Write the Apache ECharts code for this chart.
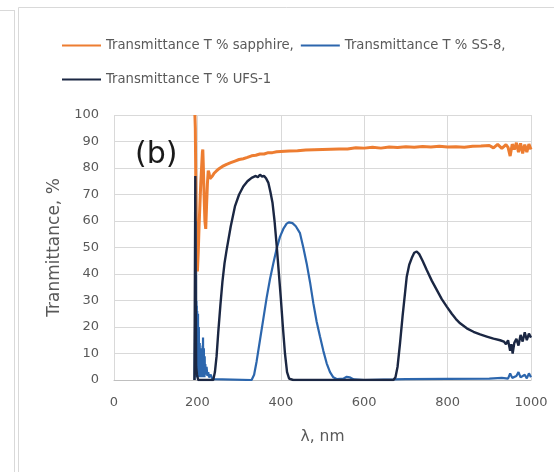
<!DOCTYPE html>
<html>
<head>
<meta charset="utf-8">
<script src="https://cdn.jsdelivr.net/npm/echarts@6/dist/echarts.min.js"></script>
<style>
html,body{margin:0;padding:0;background:#fff;}
#chart{width:554px;height:472px;}
</style>
</head>
<body>
<div id="chart"></div>
<script>
// ---- Data ----
var seriesNames = ['Transmittance T % sapphire,', 'Transmittance T % SS-8,', 'Transmittance T % UFS-1'];
var xTicks = [0, 200, 400, 600, 800, 1000];
var yTicks = [0, 10, 20, 30, 40, 50, 60, 70, 80, 90, 100];

var sapphireWl = [194,195,196,197,198,199,200,202,204,206,208,210,212,213,214,216,218,220,222,224,226,228,230,233,236,240,245,250,260,270,280,290,300,310,320,330,340,350,360,370,380,390,400,420,440,460,480,500,520,540,560,580,600,620,640,660,680,700,720,740,760,780,800,820,840,860,880,900,910,920,930,940,945,950,955,960,965,970,975,980,985,990,995,1000];
var sapphireT  = [100,95,78,62,50,44,41,48,58,66,74,80,86,87,82,70,60,57,66,74,79,78,76,76.5,77,78,78.8,79.5,80.6,81.4,82,82.6,83.2,83.5,84,84.6,84.8,85.3,85.3,85.8,85.8,86.1,86.2,86.4,86.5,86.8,86.9,87,87.1,87.2,87.2,87.6,87.5,87.8,87.5,87.9,87.7,88,87.8,88.1,87.9,88.2,87.9,88,87.8,88.2,88.3,88.5,87.6,88.9,87.4,88.8,87.8,84.5,89,87,89.5,86,89.3,85.5,88.8,86,89,87];

var ss8Wl = [193,195,195.5,196,196.5,197,197.5,198,198.5,199,199.5,200,200.5,201,201.5,202,202.5,203,203.5,204,204.5,205,205.5,206,206.5,207,207.5,208,208.5,209,209.5,210,210.5,211,211.5,212,212.5,213,213.5,214,214.5,215,215.5,216,216.5,217,217.5,218,219,220,222,224,226,228,232,236,240,330,336,342,350,358,366,374,382,390,398,406,414,420,428,436,446,454,462,470,478,486,494,502,510,518,526,535,550,558,565,575,600,670,700,800,900,930,945,950,955,965,970,975,985,990,995,1000];
var ss8T  = [0,28,60,2,40,1,30,2,28,1,26,2,22,1,25,2,18,1,20,1,12,1,14,2,8,1,10,1,7,2,12,1,8,2,10,1,13,2,16,1,9,2,12,1,8,1,9,3,6,2,5,1.5,3,1,2,0.3,0,0,2,7,15,23,31,38,44,49.5,54,57,59,59.5,59.2,58,55.4,50,44,37,29,22,16.4,11,6.3,3,1,0.3,0.5,1.2,1,0.2,0,0.2,0.3,0.4,0.5,0.8,0.5,2.5,0.8,1.5,3,1,2,0.6,2.5,1];

var ufsWl = [193,195,196,197,199,202,238,242,246,250,255,260,265,270,280,290,300,310,320,330,340,345,350,355,360,365,370,375,380,385,390,395,400,405,410,415,420,430,670,675,680,686,692,698,702,708,714,720,726,732,740,750,762,774,786,798,810,820,830,846,862,878,894,910,926,935,940,945,950,953,956,960,965,970,975,980,985,990,995,1000];
var ufsT  = [0,77,30,5,2,0,0,3,9,18,28,37,44,49,58,65.5,70,73,75,76.3,77,76.5,77.5,76.8,77,76,74.5,71,67,60,51,41,31,20,10,3,0.5,0,0,1,5,14,24,33,39,43.5,46,48,48.5,47.5,45,41.5,37.5,34,30.5,27.7,25,23,21.4,19.5,18.2,17.2,16.4,15.6,15,14.5,13.5,15,11,13.5,10,14,15.5,13,17,14.5,18,15,17.5,16];

function zip(a, b) { return a.map(function (v, i) { return [v, b[i]]; }); }

var FONT = 'DejaVu Sans';
var chart = echarts.init(document.getElementById('chart'), null, {renderer: 'canvas'});
chart.setOption({
  animation: false,
  backgroundColor: '#ffffff',
  title: {
    text: '(b)', left: 130, top: 135,
    textStyle: {fontFamily: FONT, fontSize: 30, fontWeight: 'normal', color: '#1a1a1a'}
  },
  graphic: [
    {type: 'rect', shape: {x: 18.5, y: 7.5, width: 600, height: 500}, style: {fill: null, stroke: '#d9d9d9', lineWidth: 1}, silent: true},
    {type: 'line', shape: {x1: 14.5, y1: 10, x2: 14.5, y2: 472}, style: {stroke: '#d9d9d9', lineWidth: 1}, silent: true},
    {type: 'line', shape: {x1: 0, y1: 10.5, x2: 14.5, y2: 10.5}, style: {stroke: '#d9d9d9', lineWidth: 1}, silent: true}
  ],
  legend: [
    {
      data: [seriesNames[0], seriesNames[1]], left: 57, top: 34,
      itemWidth: 39, itemHeight: 14, itemGap: 7, icon: 'path://M0,6 L40,6 L40,8 L0,8 Z',
      textStyle: {fontFamily: FONT, fontSize: 13.2, color: '#595959'}
    },
    {
      data: [seriesNames[2]], left: 57, top: 68,
      itemWidth: 39, itemHeight: 14, itemGap: 7, icon: 'path://M0,6 L40,6 L40,8 L0,8 Z',
      textStyle: {fontFamily: FONT, fontSize: 13.2, color: '#595959'}
    }
  ],
  grid: {left: 114, right: 23, top: 115, bottom: 92, containLabel: false},
  xAxis: {
    type: 'value', min: xTicks[0], max: xTicks[xTicks.length - 1], interval: 200,
    name: 'λ, nm', nameLocation: 'middle', nameGap: 49,
    nameTextStyle: {fontFamily: FONT, fontSize: 15.5, color: '#595959'},
    axisLine: {show: true, lineStyle: {color: '#bfbfbf', width: 1}},
    axisTick: {show: false},
    axisLabel: {fontFamily: FONT, fontSize: 13, color: '#595959', margin: 16, formatter: function (v) { return String(v); }},
    splitLine: {show: true, lineStyle: {color: '#d9d9d9', width: 1}}
  },
  yAxis: {
    type: 'value', min: yTicks[0], max: yTicks[yTicks.length - 1], interval: 10,
    name: 'Tranmittance, %', nameLocation: 'middle', nameGap: 46,
    nameTextStyle: {fontFamily: FONT, fontSize: 17, color: '#595959'},
    axisLine: {show: false},
    axisTick: {show: false},
    axisLabel: {fontFamily: FONT, fontSize: 13, color: '#595959', margin: 15},
    splitLine: {show: true, lineStyle: {color: '#d9d9d9', width: 1}}
  },
  series: [
    {name: seriesNames[0], type: 'line', data: zip(sapphireWl, sapphireT), symbol: 'none', color: '#ed7d31', lineStyle: {width: 3, color: '#ed7d31'}, z: 2},
    {name: seriesNames[1], type: 'line', data: zip(ss8Wl, ss8T), symbol: 'none', color: '#2c66ad', lineStyle: {width: 2.2, color: '#2c66ad'}, z: 3},
    {name: seriesNames[2], type: 'line', data: zip(ufsWl, ufsT), symbol: 'none', color: '#1b2743', lineStyle: {width: 2.4, color: '#1b2743'}, z: 4}
  ]
});
</script>
</body>
</html>
